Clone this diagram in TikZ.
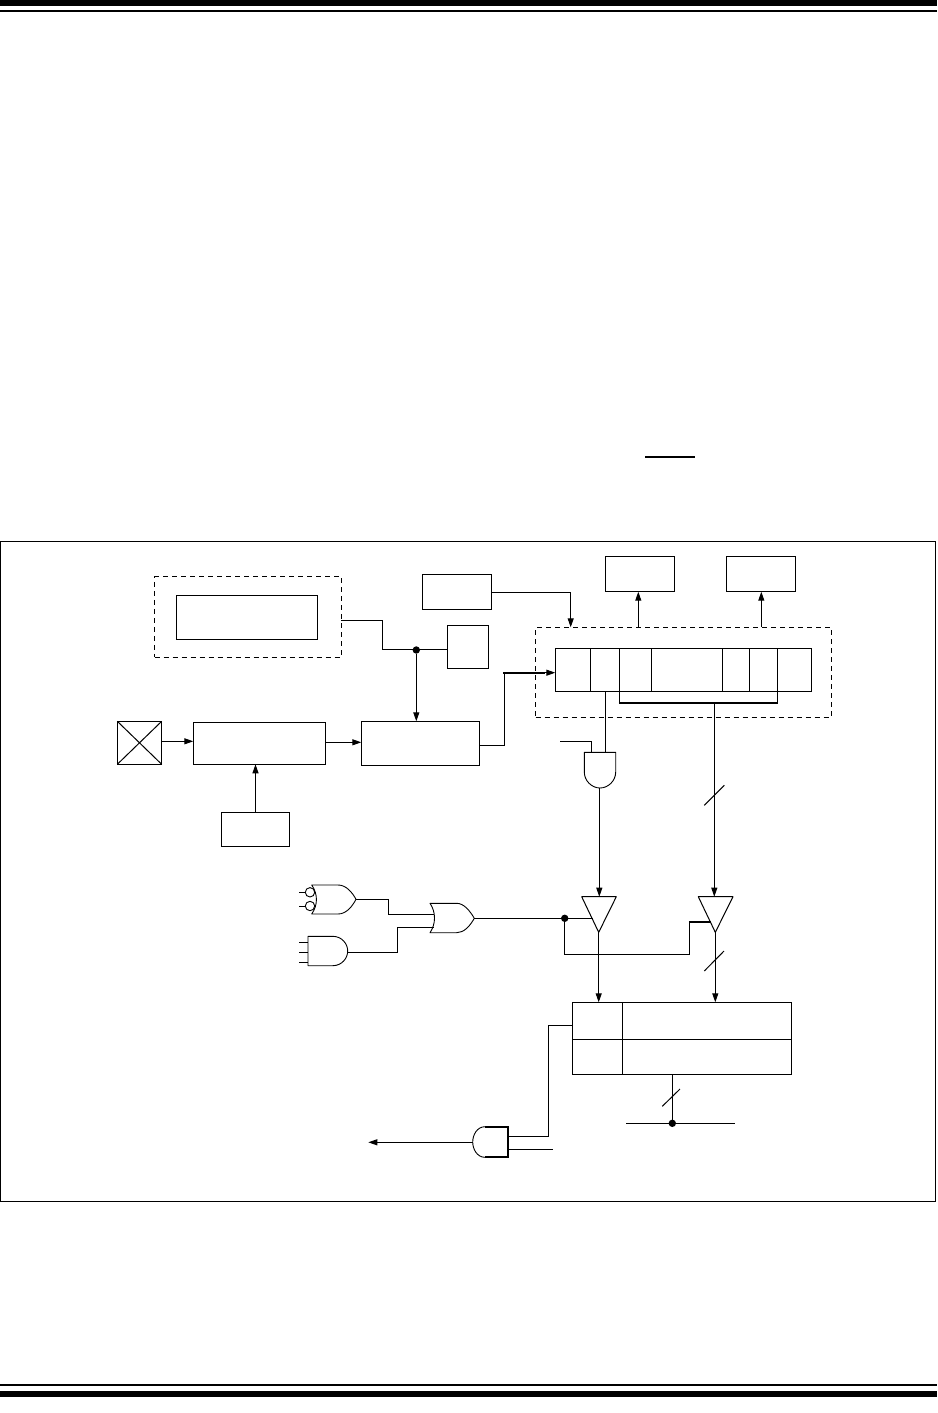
\documentclass[tikz,border=0pt]{standalone}
\usetikzlibrary{arrows.meta,calc}
\tikzset{
  wire/.style={line width=1pt,line join=miter},
  thickwire/.style={line width=1.8pt},
  arr/.style={wire,-{Triangle[length=9pt,width=6pt]}},
  boxn/.style={draw,line width=1pt,rectangle,inner sep=0pt,outer sep=0pt,anchor=north west},
  dashbox/.style={boxn,dash pattern=on 5pt off 4pt},
  junction/.style={fill,circle,inner sep=0pt,outer sep=0pt,minimum size=7.4pt},
  gate/.style={line width=0.9pt,line join=round},
  bubble/.style={draw,fill=white,circle,line width=0.9pt,minimum size=9.4pt,inner sep=0pt,outer sep=0pt},
}
% [style]{name}{x1}{y1}{x2}{y2}
\newcommand{\pbox}[6][boxn]{\node[#1,minimum width={(#5-#3)*1pt},minimum height={(#6-#4)*1pt}] (#2) at (#3,#4) {};}
\begin{document}
\begin{tikzpicture}[x=1pt,y=-1pt]
\useasboundingbox (0,0) rectangle (937,1413);
% page rules
\fill[black] (0,0) rectangle (937,6);
\fill[black] (0,9.7) rectangle (937,12);
\fill[black] (0,1384) rectangle (937,1386);
\fill[black] (0,1391) rectangle (937,1397);
\fill[black] (645,455.7) rectangle (695,457.7);
% frame
\pbox{frame}{0.6}{541.3}{935.6}{1201.3}
% boxes
\pbox[dashbox]{dashA}{154.7}{576.7}{341.3}{657.3}
\pbox{inner}{176.3}{595.3}{317.3}{639.3}
\pbox{topsmall}{422.3}{574.3}{491.3}{609.3}
\pbox{small}{447.3}{625.3}{488.7}{668.3}
\pbox{xbox}{117.3}{721.3}{161.7}{764.3}
\pbox{boxB}{193.3}{722.3}{325.3}{764.3}
\pbox{boxC}{361.3}{721.3}{479.7}{765.3}
\pbox{boxD}{221.3}{812.3}{289.7}{846.3}
\pbox{boxE}{605.3}{556.3}{674.3}{591.7}
\pbox{boxF}{726.3}{556.3}{795.3}{591.7}
\pbox[dashbox]{dashB}{535.7}{627.3}{831.3}{717}
% register cells
\pbox{r1}{555.3}{648.3}{590.3}{691.3}
\pbox{r2}{590.3}{648.3}{619.3}{691.3}
\pbox{r3}{619.3}{648.3}{651.7}{691.3}
\pbox{r4}{651.7}{648.3}{722.3}{691.3}
\pbox{r5}{722.3}{648.3}{749.3}{691.3}
\pbox{r6}{749.3}{648.3}{777.3}{691.3}
\pbox{r7}{777.3}{648.3}{811.7}{691.3}
% table cells
\pbox{t1}{572.3}{1002.3}{622.3}{1039.3}
\pbox{t2}{622.3}{1002.3}{791.3}{1039.3}
\pbox{t3}{572.3}{1039.3}{622.3}{1074.3}
\pbox{t4}{622.3}{1039.3}{791.3}{1074.3}
% X in the pin box
\draw[wire] (xbox.north west) -- (xbox.south east) (xbox.north east) -- (xbox.south west);
% gates drawn as shapes, with named pins
\draw[gate] (584.3,752.3) -- (615.7,752.3) -- (615.7,772) .. controls (615.7,781) and (608,788) .. (600,788) .. controls (592,788) and (584.3,781) .. (584.3,772) -- cycle;
\coordinate (andA-in1) at (591.7,752.3);
\coordinate (andA-in2) at (605.7,752.3);
\coordinate (andA-out) at (599.3,788);
% OR with bubbles
\draw[gate] (311.7,885) -- (338,885) .. controls (346,885) and (352,892) .. (356,899.3) .. controls (352,907) and (346,914) .. (338,914) -- (311.7,914) .. controls (318,905) and (318,894) .. (311.7,885) -- cycle;
\node[bubble] (bub1) at (310,892.3) {};
\node[bubble] (bub2) at (310,906) {};
\coordinate (orA-out) at (356,899.3);
\coordinate (pinA1) at (299.3,892.3);
\coordinate (pinA2) at (299.3,906);
\draw[wire] (pinA1) -- (bub1.west) (pinA2) -- (bub2.west);
% AND three inputs
\draw[gate] (308,936.3) -- (332.7,936.3) .. controls (342,936.3) and (347.7,944) .. (347.7,951) .. controls (347.7,958) and (342,965.7) .. (332.7,965.7) -- (308,965.7) -- cycle;
\coordinate (andB-out) at (347.7,952.3);
\coordinate (pinB1) at (299.3,942.3);
\coordinate (pinB2) at (299.3,952.3);
\coordinate (pinB3) at (299.3,962.3);
\draw[wire] (pinB1) -- +(8.7,0) (pinB2) -- +(8.7,0) (pinB3) -- +(8.7,0);
% OR 2
\draw[gate] (430,903.3) -- (456.7,903.3) .. controls (464,903.3) and (470,911) .. (474.3,918.3) .. controls (470,926) and (464,932.7) .. (456.7,932.7) -- (430,932.7) .. controls (436,924) and (436,912) .. (430,903.3) -- cycle;
\coordinate (orB-out) at (474.3,918.3);
\coordinate (orB-in1) at (434,914.3);
\coordinate (orB-in2) at (434,927.3);
% buffers
\draw[wire,line join=round] (581.7,896.7) -- (616.3,896.7) -- (598.7,932.3) -- cycle;
\draw[wire,line join=round] (698.3,896.7) -- (733,896.7) -- (715.3,932.3) -- cycle;
\coordinate (bufA-top) at (599.3,896.7);
\coordinate (bufA-ctl) at (593.3,918.3);
\coordinate (bufA-out) at (598.7,932.3);
\coordinate (bufB-top) at (714.3,896.7);
\coordinate (bufB-ctl) at (710.7,922);
\coordinate (bufB-out) at (715.3,932.3);
% bottom AND
\draw[gate] (485,1126.7) .. controls (477,1126.7) and (472.7,1135) .. (472.7,1142) .. controls (472.7,1149) and (477,1157.3) .. (485,1157.3);
\draw[thickwire] (485,1126.7) -- (508.3,1126.7) -- (508.3,1157.3) -- (485,1157.3);
\coordinate (andC-in1) at (508.3,1136.7);
\coordinate (andC-in2) at (508.3,1149.3);
\coordinate (andC-out) at (472.7,1142.3);
\coordinate (andC-free) at (552.7,1149.3);
\coordinate (outEnd) at (368.3,1142.3);
% connectors
\node[junction] (j1) at (416.3,650) {};
\draw[wire] (dashA.east |- 0,620.3) -- (382.3,620.3) -- (382.3,649.3) -- (small.west |- 0,649.3);
\draw[arr] (j1) -- (j1 |- boxC.north);
\draw[arr] (xbox.east |- 0,741.3) -- (boxB.west |- 0,741.3);
\draw[arr] (boxB.east |- 0,742.3) -- (boxC.west |- 0,742.3);
\draw[arr] (boxD.north) -- (boxD.north |- boxB.south);
\draw[wire] (boxC.east |- 0,745.3) -- (504.3,745.3) -- (504.3,672.7);
\draw[thickwire] (503.4,672.7) -- (545,672.7);
\draw[arr] (545,672.7) -- (r1.west |- 0,672.7);
\draw[arr] (topsmall.east |- 0,592.3) -- (570.7,592.3) -- (570.7,627.3);
\draw[arr] (638.3,627.3) -- (638.3,591.7);
\draw[arr] (761.3,627.3) -- (761.3,591.7);
% bracket and bus
\draw[wire] (r3.south west) -- (619.3,703) (r6.south east) -- (777.3,703);
\draw[thickwire] (618.9,703) -- (777.7,703);
\coordinate (busTap) at (714.3,703);
\draw[arr] (busTap) -- (bufB-top);
\draw[wire] (704.3,805.3) -- (724.3,785.3);
\draw[wire] (605.7,691.3) -- (andA-in2);
\draw[wire] (560,741.7) -- (591.7,741.7) -- (andA-in1);
\draw[arr] (andA-out) -- (bufA-top);
% logic
\draw[wire] (orA-out) -- (388.3,899.3) -- (388.3,914.3) -- (orB-in1);
\draw[wire] (andB-out) -- (397.3,952.3) -- (397.3,927.3) -- (orB-in2);
\node[junction] (j2) at (564.7,918.3) {};
\draw[wire] (orB-out) -- (j2) -- (bufA-ctl);
\draw[wire] (j2) -- (564.7,954.3) -- (689.3,954.3) -- (689.3,922);
\draw[thickwire] (688.9,922) -- (bufB-ctl);
\draw[arr] (bufA-out) -- (598.7,1002.3);
\draw[arr] (bufB-out) -- (715.3,1002.3);
\draw[wire] (704.3,971) -- (724,951);
% data bus
\node[junction] (j3) at (672.3,1123.3) {};
\coordinate (busL) at (626,1123.3);
\coordinate (busR) at (734.7,1123.3);
\draw[wire] (busL) -- (busR);
\draw[wire] (672.3,1074.3) -- (j3);
\draw[wire] (662.3,1106.3) -- (680,1089);
% to output AND
\draw[wire] (t1.west |- 0,1025.3) -- (548.3,1025.3) -- (548.3,1136.7) -- (andC-in1);
\draw[wire] (andC-in2) -- (andC-free);
\draw[arr] (andC-out) -- (outEnd);
\end{tikzpicture}
\end{document}
